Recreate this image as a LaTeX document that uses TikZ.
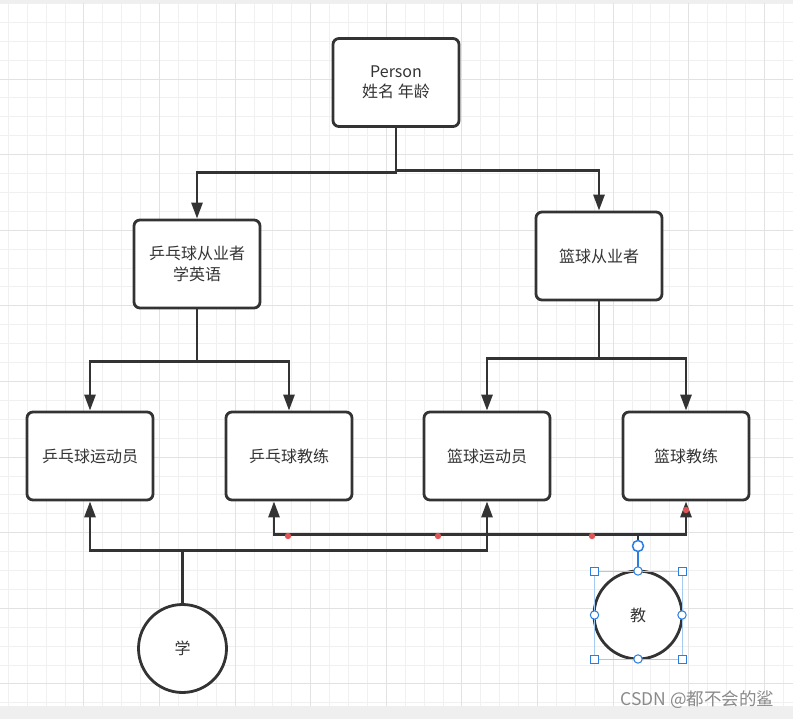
\documentclass[tikz,border=0pt]{standalone}
\usepackage{fontspec}
\setmainfont{Noto Sans CJK SC}
\usetikzlibrary{arrows.meta}
\definecolor{ink}{HTML}{333333}
\definecolor{gridminor}{HTML}{F0F0F0}
\definecolor{gridmajor}{HTML}{E2E2E2}
\definecolor{uibar}{HTML}{EFEFEF}
\definecolor{selblue}{HTML}{2A7DE1}
\definecolor{sellight}{HTML}{A6CBF2}
\definecolor{waypt}{HTML}{E05555}
\definecolor{wmgray}{HTML}{8A8A8A}

\begin{document}
\begin{tikzpicture}[
  x=1pt, y=-1pt,
  box/.style={rectangle, draw=ink, line width=2.8pt, rounded corners=6pt, fill=white, minimum width=126pt, minimum height=88pt, align=center, text=ink, font=\fontsize{16}{20.5}\selectfont},
  ball/.style={circle, draw=ink, line width=2.8pt, fill=white, minimum size=88pt, inner sep=0pt, text=ink, font=\fontsize{16}{20}\selectfont},
  conn/.style={draw=ink, line width=2.8pt, -{Triangle[length=16pt, width=11pt]}},
  handle/.style={draw=selblue, fill=white, line width=1pt},
]
  \useasboundingbox (0,0) rectangle (793,719);

  % Canvas and grid
  \fill[white] (0,0) rectangle (793,719);
  \foreach \k in {0,...,41} {
    \pgfmathsetmacro{\gx}{8.3+18.9*\k}
    \draw[gridminor, line width=1pt] (\gx,3) -- (\gx,706);
  }
  \foreach \k in {0,...,37} {
    \pgfmathsetmacro{\gy}{3.5+18.9*\k}
    \draw[gridminor, line width=1pt] (0,\gy) -- (793,\gy);
  }
  \foreach \k in {4,8,...,40} {
    \pgfmathsetmacro{\gx}{8.3+18.9*\k}
    \draw[gridmajor, line width=1pt] (\gx,3) -- (\gx,706);
  }
  \foreach \k in {4,8,...,36} {
    \pgfmathsetmacro{\gy}{3.5+18.9*\k}
    \draw[gridmajor, line width=1pt] (0,\gy) -- (793,\gy);
  }
  \fill[uibar] (0,0) rectangle (793,3);
  \fill[uibar] (0,706) rectangle (793,719);

  % Class nodes
  \node[box] (person) at (396, 82.5) {Person\\姓名 年龄};
  \node[box] (ppjob) at (197, 264) {乒乓球从业者\\学英语};
  \node[box] (bbjob) at (599, 256) {篮球从业者};
  \node[box] (ppplayer) at (90, 456) {乒乓球运动员};
  \node[box] (ppcoach) at (289, 456) {乒乓球教练};
  \node[box] (bbplayer) at (487, 456) {篮球运动员};
  \node[box] (bbcoach) at (686, 456) {篮球教练};

  % Interface nodes
  \node[ball] (xue) at (182.5, 648.5) {学};
  \node[ball] (jiao) at (638, 615) {教};

  % Inheritance arrows
  \draw[conn] (person.south) -- ++(0,45) -| (ppjob.north);
  \draw[conn] (person.south) -- ++(0,43) -| (bbjob.north);
  \draw[conn] (ppjob.south) -- ++(0,52) -| (ppplayer.north);
  \draw[conn] (ppjob.south) -- ++(0,52) -| (ppcoach.north);
  \draw[conn] (bbjob.south) -- ++(0,57) -| (bbplayer.north);
  \draw[conn] (bbjob.south) -- ++(0,57) -| (bbcoach.north);

  % Interface arrows
  \draw[conn] (xue.north) -- ++(0,-53) -| (ppplayer.south);
  \draw[conn] (xue.north) -- ++(0,-53) -| (bbplayer.south);
  \draw[conn] (jiao.north) -- ++(0,-35) -| ([xshift=-15pt]ppcoach.south);
  \draw[conn] (jiao.north) -- ++(0,-35) -| (bbcoach.south);

  % Waypoints of the selected edge
  \foreach \p in {(288,536), (438,536), (592,536), (686,510)}
    \fill[waypt] \p circle (3.2);

  % Selection of the interface node
  \draw[selblue, line width=2.8pt] (jiao.north) -- ++(0,-20);
  \draw[sellight, line width=0.8pt] (594.5,571) rectangle (682,659);
  \foreach \p in {(594.5,571), (682,571), (594.5,659), (682,659)}
    \draw[handle] \p ++(-4,-4) rectangle ++(8,8);
  \foreach \p in {(638,571), (594.5,615), (682,615), (638,659)}
    \draw[handle] \p circle (4.2);
  \draw[handle, line width=1.5pt] (638,546) circle (5.5);

  % Watermark
  \node[text=wmgray, anchor=east, font=\fontsize{17.5}{17.5}\selectfont] (mark) at (778,700) {CSDN @都不会的鲨};
\end{tikzpicture}
\end{document}
